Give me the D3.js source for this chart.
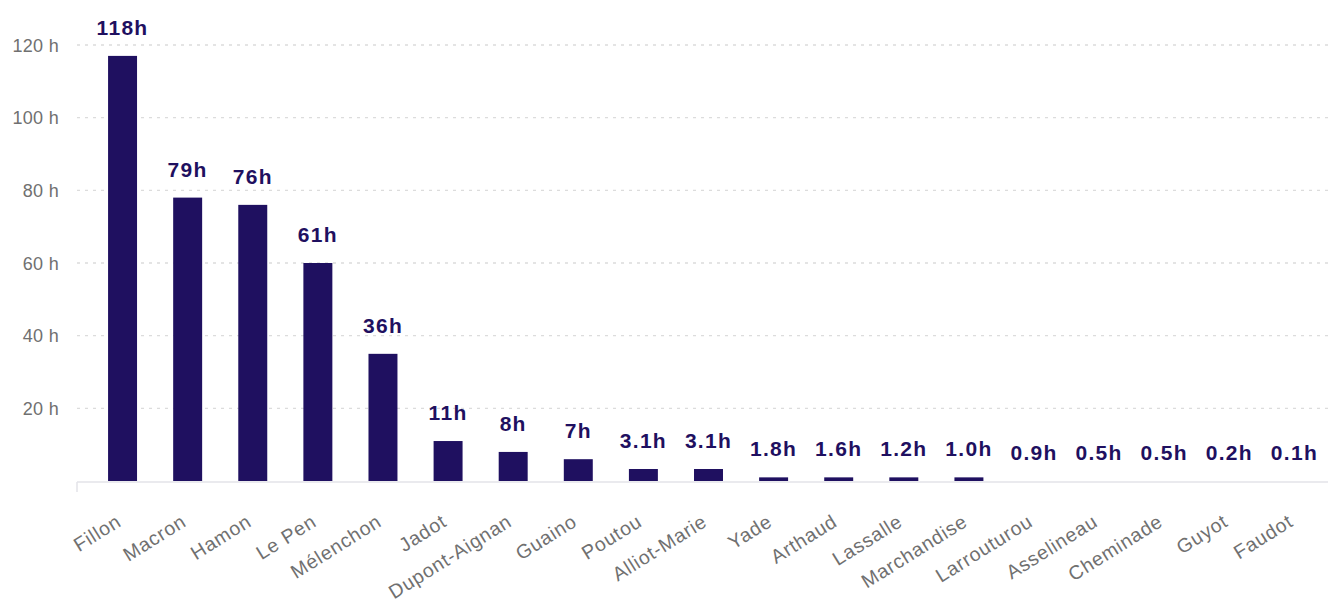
<!DOCTYPE html>
<html>
<head>
<meta charset="utf-8">
<script src="https://cdn.jsdelivr.net/npm/d3@7/dist/d3.min.js"></script>
<style>
  html, body { margin: 0; padding: 0; background: #fff; }
  svg { display: block; font-family: "Liberation Sans", Arial, sans-serif; }
</style>
</head>
<body>
<svg id="chart" width="1328" height="604"></svg>
<script>
// Candidates (categories)
const candidates = ["Fillon", "Macron", "Hamon", "Le Pen", "Mélenchon", "Jadot", "Dupont-Aignan",
  "Guaino", "Poutou", "Alliot-Marie", "Yade", "Arthaud", "Lassalle", "Marchandise",
  "Larrouturou", "Asselineau", "Cheminade", "Guyot", "Faudot"];
// Bar heights as drawn (hours)
const barHours = [117, 78, 76, 60, 35, 11, 8, 6, 3.3, 3.3, 1, 1, 1, 1, 0, 0, 0, 0, 0];
// Data label texts
const valueLabels = ["118h", "79h", "76h", "61h", "36h", "11h", "8h", "7h", "3.1h", "3.1h",
  "1.8h", "1.6h", "1.2h", "1.0h", "0.9h", "0.5h", "0.5h", "0.2h", "0.1h"];
// Y axis ticks
const yTicks = [20, 40, 60, 80, 100, 120];

const svg = d3.select("#chart");
const plotLeft = 77, plotRight = 1328;
const barColor = "#1f1060";

const x = d3.scaleBand()
  .domain(candidates)
  .range([90, 1327])
  .paddingInner(0.555)
  .paddingOuter(0.2775);

const y = d3.scaleLinear().domain([0, 120]).range([481, 45]);

// Grid lines
svg.append("g").selectAll("line")
  .data(yTicks)
  .join("line")
  .attr("x1", plotLeft).attr("x2", plotRight)
  .attr("y1", d => y(d)).attr("y2", d => y(d))
  .attr("stroke", "#dcdcdc")
  .attr("stroke-width", 1.3)
  .attr("stroke-dasharray", "3,5");

// Y axis labels
const yAxis = d3.axisLeft(y).tickValues(yTicks).tickSize(0).tickPadding(0)
  .tickFormat(d => d + " h");
const yg = svg.append("g").attr("transform", `translate(59,0)`).call(yAxis);
yg.select(".domain").remove();
yg.selectAll("text")
  .attr("fill", "#707070")
  .style("font-size", "18px")
  .style("letter-spacing", "0.3px")
  .attr("dy", "0.35em");

// X axis line
svg.append("line")
  .attr("x1", plotLeft).attr("x2", plotRight)
  .attr("y1", 482).attr("y2", 482)
  .attr("stroke", "#e3e3e8").attr("stroke-width", 1.5);
svg.append("line")
  .attr("x1", plotLeft).attr("x2", plotLeft)
  .attr("y1", 482).attr("y2", 492)
  .attr("stroke", "#e3e3e8").attr("stroke-width", 1.5);

// Bars
svg.append("g").selectAll("rect")
  .data(candidates)
  .join("rect")
  .attr("x", d => x(d))
  .attr("width", x.bandwidth())
  .attr("y", (d, i) => y(barHours[i]))
  .attr("height", (d, i) => y(0) - y(barHours[i]))
  .attr("fill", barColor);

// Data labels
svg.append("g").selectAll("text")
  .data(candidates)
  .join("text")
  .attr("x", d => x(d) + x.bandwidth() / 2)
  .attr("y", (d, i) => y(barHours[i]) - 21)
  .attr("text-anchor", "middle")
  .attr("fill", "#1f1060")
  .style("font-size", "21px")
  .style("font-weight", "bold")
  .style("letter-spacing", "1.3px")
  .text((d, i) => valueLabels[i]);

// X axis labels (rotated)
const xAxis = d3.axisBottom(x).tickSize(0).tickPadding(0);
const xg = svg.append("g").call(xAxis);
xg.select(".domain").remove();
xg.selectAll(".tick").attr("transform", d => `translate(${x(d) + x.bandwidth() / 2},525)`);
xg.selectAll(".tick text")
  .attr("x", 0).attr("y", 0).attr("dy", 0)
  .attr("text-anchor", "end")
  .attr("transform", "rotate(-32)")
  .attr("fill", "#707070")
  .style("font-size", "19.5px")
  .style("letter-spacing", "0.8px");
</script>
</body>
</html>
